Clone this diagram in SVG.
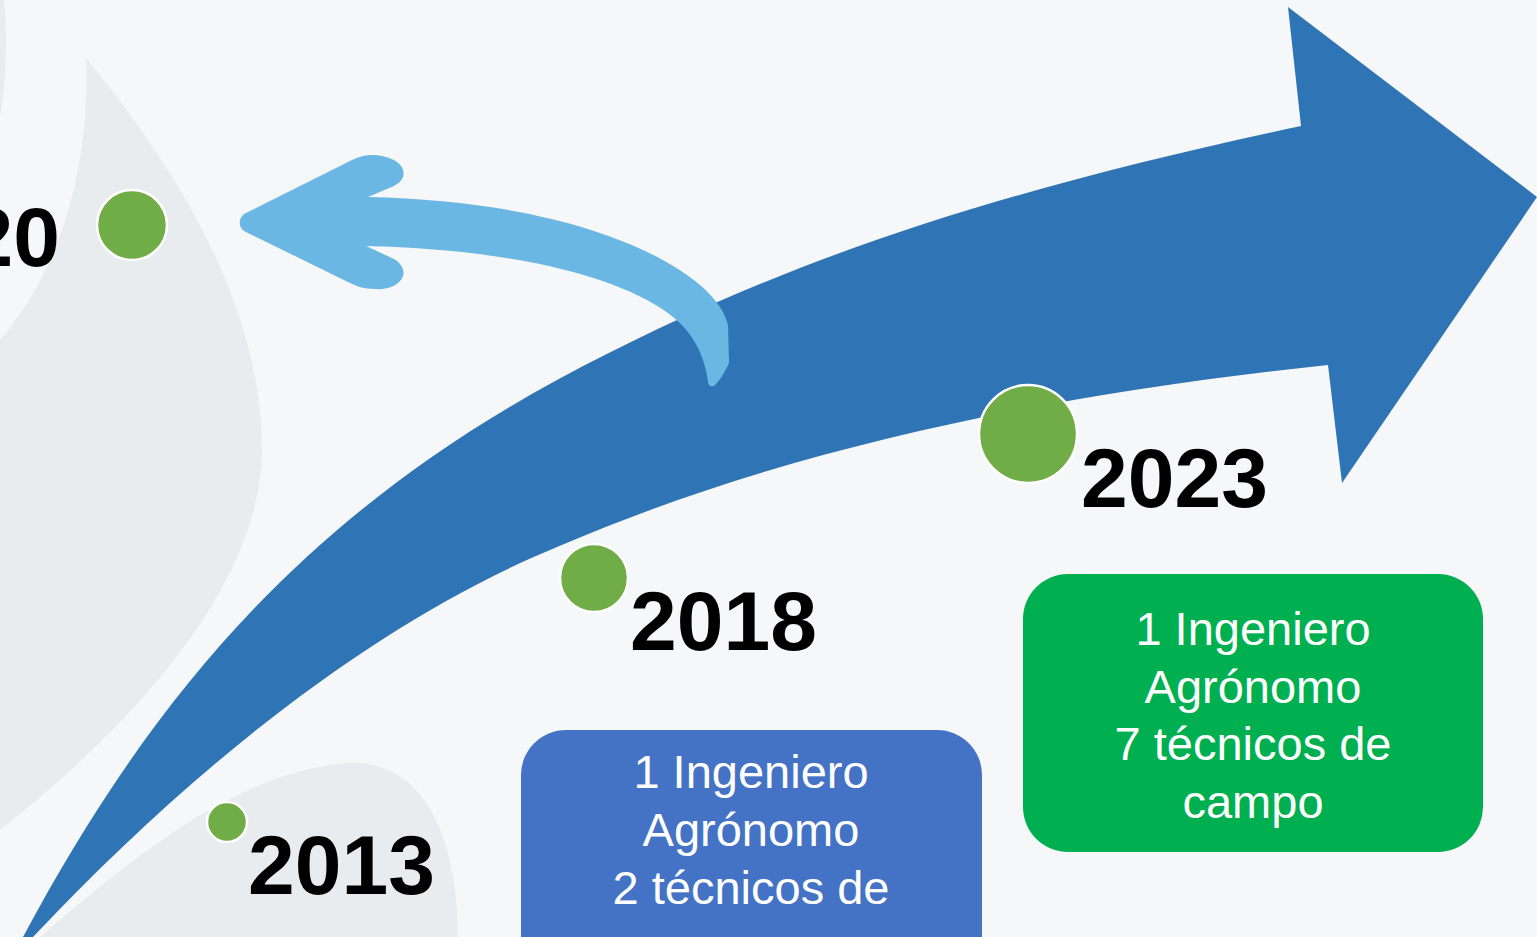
<svg xmlns="http://www.w3.org/2000/svg" width="1537" height="937" viewBox="0 0 1537 937">
  <style>
    .bg { fill: #F5F7F8; }
    .drop { fill: #E9ECEF; }
    .dot { fill: #70AD47; stroke: #FFFFFF; stroke-width: 2.5; }
    .year { font-family: "Liberation Sans", Arial, sans-serif; font-weight: bold; font-size: 84px; fill: #000000; }
    .boxtxt { font-family: "Liberation Sans", Arial, sans-serif; font-size: 47px; fill: #FFFFFF; text-anchor: middle; }
  </style>
  <rect class="bg" x="0" y="0" width="1537" height="937"/>
  <g id="background">
    <path class="drop" d="M0,0 L4,0 C8,40 6,80 0,118 Z"/>
    <path class="drop" d="M86,58 C170,160 262,300 262,450 C262,580 140,720 0,830 L0,340 C60,270 90,170 86,58 Z"/>
    <path class="drop" d="M40,937 C130,860 230,775 345,763 C420,758 457,830 458,937 Z"/>
  </g>
  <g id="connectors">
    <path id="main-arrow" fill="#2F75B5" d="M23,937 C150,700 300,520 557,380 C780,260 1000,190 1301,126 L1288,7 L1537,197 L1342,483 L1328,365 C1000,400 760,460 557,547 C380,620 200,760 33,937 Z"/>
    <path id="return-arrow" fill="#6BB7E4" d="M244,214 L352,160 C362,155 372,154 382,156 C398,159 406,168 403,177 C401,182 397,184 394,186 L368,197 C520,200 640,235 700,285 C715,298 724,310 728,325 L729,363 C725,372 720,380 715,385 C712,388 708,386 708,382 C705,355 692,332 673,317 C630,282 530,250 366,246 L394,259 C401,263 405,270 403,276 C400,285 388,290 375,289 C364,289 356,286 350,283 L246,232 C238,228 238,219 244,214 Z"/>
  </g>
  <g id="node-2020">
    <circle class="dot" cx="132" cy="225" r="35"/>
    <text class="year" x="60" y="266" text-anchor="end">20</text>
  </g>
  <g id="node-2013">
    <circle class="dot" cx="227" cy="822" r="20"/>
    <text class="year" x="248" y="894">2013</text>
  </g>
  <g id="node-2018">
    <circle class="dot" cx="594" cy="578" r="34"/>
    <text class="year" x="630" y="650">2018</text>
  </g>
  <g id="node-2023">
    <circle class="dot" cx="1028" cy="434" r="49"/>
    <text class="year" x="1081" y="507">2023</text>
  </g>
  <g id="box-2018">
    <rect x="521" y="730" width="461" height="260" rx="45" ry="45" fill="#4472C4"/>
    <text class="boxtxt" x="751" y="788">1 Ingeniero</text>
    <text class="boxtxt" x="751" y="846">Agrónomo</text>
    <text class="boxtxt" x="751" y="904">2 técnicos de</text>
    <text class="boxtxt" x="751" y="962">campo</text>
  </g>
  <g id="box-2023">
    <rect x="1023" y="574" width="460" height="278" rx="45" ry="45" fill="#00B050"/>
    <text class="boxtxt" x="1253" y="645">1 Ingeniero</text>
    <text class="boxtxt" x="1253" y="703">Agrónomo</text>
    <text class="boxtxt" x="1253" y="760">7 técnicos de</text>
    <text class="boxtxt" x="1253" y="818">campo</text>
  </g>
</svg>
